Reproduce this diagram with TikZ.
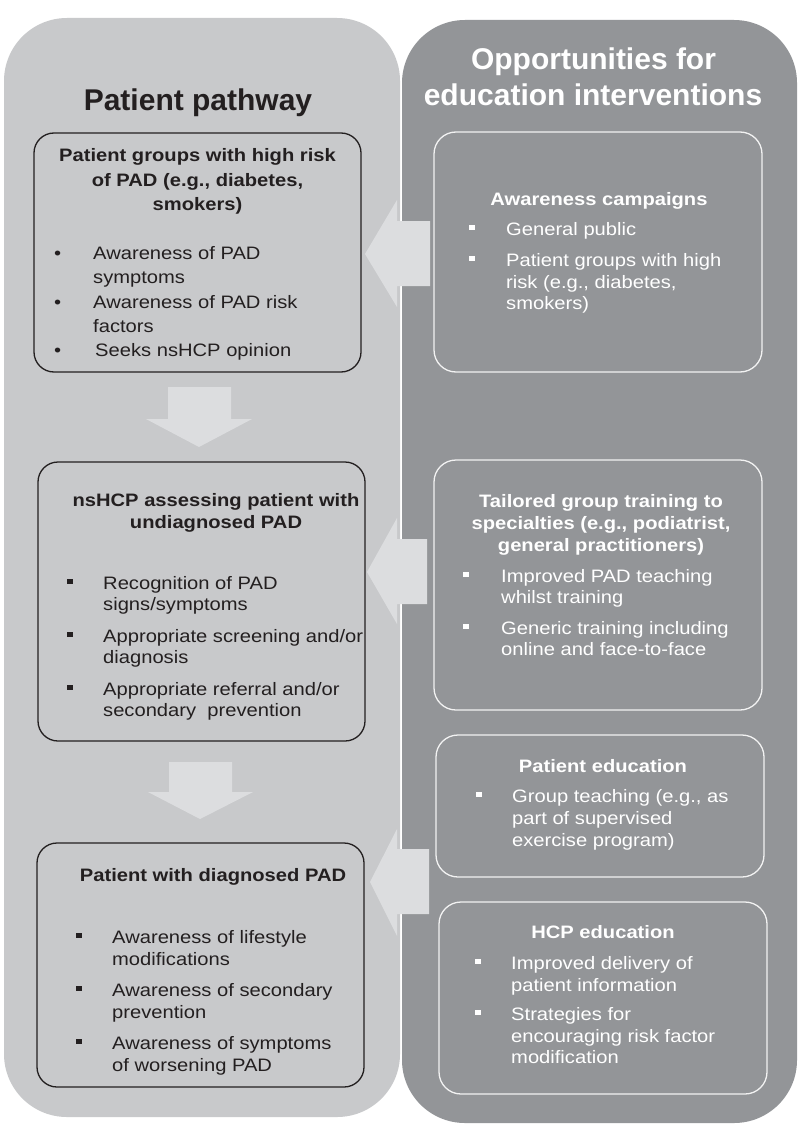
\documentclass[tikz,border=0pt]{standalone}
\usepackage{fontspec}
\setmainfont{Liberation Sans}
\newfontfamily\hdfont{Liberation Sans}
\newfontfamily\bxfont[FakeStretch=1.12]{Liberation Sans}
\definecolor{lpanel}{HTML}{C8C9CB}
\definecolor{rpanel}{HTML}{939598}
\definecolor{arrowc}{HTML}{DCDDDF}
\definecolor{ink}{HTML}{231F20}
\definecolor{wline}{HTML}{F2F2F2}
\tikzset{
  hd/.style={font=\hdfont\fontsize{30}{34}\bfseries\selectfont, inner sep=0pt, anchor=base},
  ttl/.style={font=\bxfont\fontsize{18}{22}\bfseries\selectfont, inner sep=0pt, anchor=base},
  txt/.style={font=\bxfont\fontsize{18}{22}\selectfont, inner sep=0pt, anchor=base west},
  lbox/.style={draw=ink, line width=1.3pt, rounded corners=20pt},
  rbox/.style={draw=wline, line width=1.3pt, rounded corners=22pt},
  blockarrow/.style={fill=arrowc},
}
\newcommand{\sqb}[3]{\fill[#3] (#1-2.8,#2-9.8) rectangle (#1+2.8,#2-4.6);}
\begin{document}
\begin{tikzpicture}[x=1pt,y=-1pt]
\useasboundingbox (0,0) rectangle (804,1134);
\fill[white] (0,0) rectangle (804,1134);
% panels
\fill[lpanel, rounded corners=63pt] (4,18) rectangle (400,1117);
\fill[rpanel, rounded corners=63pt] (402,20) rectangle (797,1123);
% headers
\node[hd, text=ink] (hl) at (198,110.5) {Patient pathway};
\node[hd, text=white] (hr1) at (593.5,70) {Opportunities for};
\node[hd, text=white] (hr2) at (593,106) {education interventions};
% left boxes
\draw[lbox] (34,133) rectangle (361,372);
\draw[lbox] (38,462) rectangle (365,741);
\draw[lbox] (37,843) rectangle (364,1087);
% right boxes
\draw[rbox] (434,132) rectangle (762,372);
\draw[rbox] (434,460) rectangle (762,710);
\draw[rbox] (436,735) rectangle (764,877);
\draw[rbox] (439,902) rectangle (767,1094);
% down arrows
\fill[blockarrow] (168,387) -- (231,387) -- (231,419) -- (252,419) -- (199,447) -- (146,419) -- (168,419) -- cycle;
\fill[blockarrow] (169,762) -- (232,762) -- (232,792) -- (253,792) -- (200,819) -- (148,792) -- (169,792) -- cycle;
% left arrows
\fill[blockarrow] (430,221) -- (397,221) -- (397,200) -- (365,254) -- (397,307) -- (397,286) -- (430,286) -- cycle;
\fill[blockarrow] (427,539) -- (397,539) -- (397,518) -- (367,572) -- (397,624) -- (397,604) -- (427,604) -- cycle;
\fill[blockarrow] (429,849) -- (397,849) -- (397,829) -- (370,882) -- (397,936) -- (397,914) -- (429,914) -- cycle;
% box 1
\begin{scope}[text=ink]
\node[ttl] (t1a) at (197.5,162) {Patient groups with high risk};
\node[ttl] (t1b) at (197.5,186) {of PAD (e.g., diabetes,};
\node[ttl] (t1c) at (197.5,210) {smokers)};
\node[txt] (d1a) at (54,259) {•};
\node[txt] (d1b) at (54,308) {•};
\node[txt] (d1c) at (54,356) {•};
\node[txt] (l1a) at (93,259) {Awareness of PAD};
\node[txt] (l1b) at (93,283) {symptoms};
\node[txt] (l1c) at (93,308) {Awareness of PAD risk};
\node[txt] (l1d) at (93,332) {factors};
\node[txt] (l1e) at (95,356) {Seeks nsHCP opinion};
% box 2
\node[ttl] (t2a) at (216,506) {nsHCP assessing patient with};
\node[ttl] (t2b) at (216,528) {undiagnosed PAD};
\node[txt] (l2a) at (103,589) {Recognition of PAD};
\node[txt] (l2b) at (103,610) {signs/symptoms};
\node[txt] (l2c) at (103,642) {Appropriate screening and/or};
\node[txt] (l2d) at (103,663) {diagnosis};
\node[txt] (l2e) at (103,695) {Appropriate referral and/or};
\node[txt] (l2f) at (103,716) {secondary\ \ prevention};
% box 3
\node[ttl] (t3a) at (213,881) {Patient with diagnosed PAD};
\node[txt] (l3a) at (112,943) {Awareness of lifestyle};
\node[txt] (l3b) at (112,965) {modifications};
\node[txt] (l3c) at (112,996) {Awareness of secondary};
\node[txt] (l3d) at (112,1018) {prevention};
\node[txt] (l3e) at (112,1049) {Awareness of symptoms};
\node[txt] (l3f) at (112,1071) {of worsening PAD};
\end{scope}
\sqb{70}{589}{ink} \sqb{70}{642}{ink} \sqb{70}{695}{ink}
\sqb{79}{943}{ink} \sqb{79}{996}{ink} \sqb{79}{1049}{ink}
% right boxes text
\begin{scope}[text=white]
\node[ttl] (r1t) at (599,205) {Awareness campaigns};
\node[txt] (r1a) at (506,235) {General public};
\node[txt] (r1b) at (506,266) {Patient groups with high};
\node[txt] (r1c) at (506,288) {risk (e.g., diabetes,};
\node[txt] (r1d) at (506,309) {smokers)};
\node[ttl] (r2t1) at (601,507) {Tailored group training to};
\node[ttl] (r2t2) at (601,529) {specialties (e.g., podiatrist,};
\node[ttl] (r2t3) at (601,551) {general practitioners)};
\node[txt] (r2a) at (501,582) {Improved PAD teaching};
\node[txt] (r2b) at (501,603) {whilst training};
\node[txt] (r2c) at (501,634) {Generic training including};
\node[txt] (r2d) at (501,655) {online and face-to-face};
\node[ttl] (r3t) at (603,772) {Patient education};
\node[txt] (r3a) at (512,802) {Group teaching (e.g., as};
\node[txt] (r3b) at (512,824) {part of supervised};
\node[txt] (r3c) at (512,846) {exercise program)};
\node[ttl] (r4t) at (603,938) {HCP education};
\node[txt] (r4a) at (511,969) {Improved delivery of};
\node[txt] (r4b) at (511,991) {patient information};
\node[txt] (r4c) at (511,1020) {Strategies for};
\node[txt] (r4d) at (511,1042) {encouraging risk factor};
\node[txt] (r4e) at (511,1063) {modification};
\end{scope}
\sqb{472}{235}{white} \sqb{472}{266}{white}
\sqb{466}{582}{white} \sqb{466}{634}{white}
\sqb{479}{802}{white}
\sqb{478}{969}{white} \sqb{478}{1020}{white}
\end{tikzpicture}
\end{document}
